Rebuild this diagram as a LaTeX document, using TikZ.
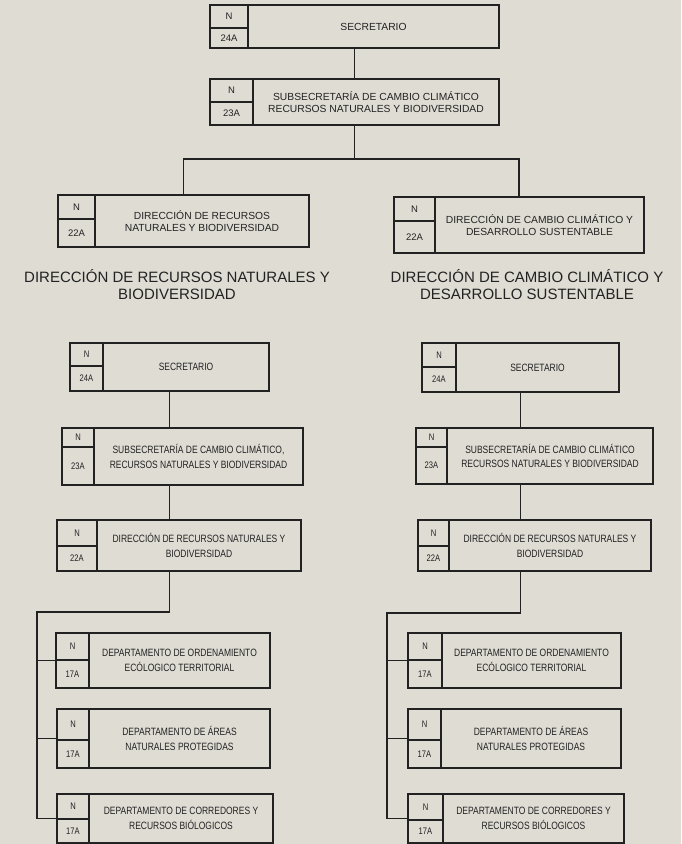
\documentclass[tikz,border=0pt]{standalone}
\usepackage{fontspec}
\setmainfont{Liberation Sans}
\newfontfamily\narrowfont[FakeStretch=0.8]{Liberation Sans}
\usetikzlibrary{fit,calc}
\definecolor{paper}{RGB}{223,220,212}
\definecolor{ink}{RGB}{34,34,34}
\tikzset{
  boxline/.style={draw=ink, line width=1.2pt},
  boxfit/.style={boxline, inner sep=0pt, outer sep=0pt},
  conn/.style={draw=ink, line width=1.1pt},
  title/.style={text=ink, align=center, inner sep=0pt, font=\fontsize{15}{17}\selectfont},
}
% \obox[name](x1,y1)(x2,y2)(xdiv,ydiv){code}{text}
\def\obox[#1](#2,#3)(#4,#5)(#6,#7)#8#9{%
  \node[boxfit, fit={(#2,#3) (#4,#5)}] (#1) {};
  \draw[boxline] (#6,#3) -- (#6,#5);
  \draw[boxline] (#2,#7) -- (#6,#7);
  \node[codetxt] (#1n) at ({(#2+#6)/2},{(#3+#7)/2}) {N};
  \node[codetxt] (#1c) at ({(#2+#6)/2},{(#7+#5)/2}) {#8};
  \node[maintxt] (#1t) at ({(#6+#4)/2},{(#3+#5)/2}) {#9};
}
\begin{document}
\begin{tikzpicture}[x=1pt,y=-1pt]
\fill[paper] (0,0) rectangle (681,844);
\useasboundingbox (0,0) rectangle (681,844);

% ---------- top chart ----------
\begin{scope}[
  maintxt/.style={text=ink, align=center, inner sep=0pt, font=\fontsize{10.3}{12.5}\selectfont},
  codetxt/.style={text=ink, inner sep=0pt, font=\fontsize{9.5}{10}\selectfont}]
\obox[sec](210,5)(499,48)(248,28){24A}{SECRETARIO}
\obox[sub](210,79)(499,125)(253,102){23A}{SUBSECRETARÍA DE CAMBIO CLIMÁTICO\\RECURSOS NATURALES Y BIODIVERSIDAD}
\obox[dL](58,195)(309,247)(95,219){22A}{DIRECCIÓN DE RECURSOS\\NATURALES Y BIODIVERSIDAD}
\obox[dR](394,197)(644,253)(435,221){22A}{DIRECCIÓN DE CAMBIO CLIMÁTICO Y\\DESARROLLO SUSTENTABLE}
\end{scope}
\draw[conn] (sec.south) -- (sub.north);
\draw[conn] (sub.south) -- ($(sub.south)+(0,34)$) coordinate (j1);
\draw[conn] (dL.north) |- (j1) -| (dR.north);

% ---------- titles ----------
\node[title] (tL) at (177,284.5) {DIRECCIÓN DE RECURSOS NATURALES Y\\BIODIVERSIDAD};
\node[title] (tR) at (527,284.5) {DIRECCIÓN DE CAMBIO CLIMÁTICO Y\\DESARROLLO SUSTENTABLE};

% ---------- lower charts ----------
\begin{scope}[
  maintxt/.style={text=ink, align=center, inner sep=0pt, font=\narrowfont\fontsize{10.6}{14.5}\selectfont},
  codetxt/.style={text=ink, inner sep=0pt, font=\narrowfont\fontsize{9.5}{10}\selectfont}]
% left
\obox[Lsec](70,343)(269,391)(103,366){24A}{SECRETARIO}
\obox[Lsub](62,428)(303,485)(94,447){23A}{SUBSECRETARÍA DE CAMBIO CLIMÁTICO,\\RECURSOS NATURALES Y BIODIVERSIDAD}
\obox[Ldir](57,520)(301,571)(97,546){22A}{DIRECCIÓN DE RECURSOS NATURALES Y\\BIODIVERSIDAD}
\obox[Ld1](56,633)(270,688)(89,660){17A}{DEPARTAMENTO DE ORDENAMIENTO\\ECÓLOGICO TERRITORIAL}
\obox[Ld2](57,709)(270,768)(89,740){17A}{DEPARTAMENTO DE ÁREAS\\NATURALES PROTEGIDAS}
\obox[Ld3](57,794)(273,843)(89,819){17A}{DEPARTAMENTO DE CORREDORES Y\\RECURSOS BIÓLOGICOS}
% right
\obox[Rsec](422,343)(619,392)(456,367){24A}{SECRETARIO}
\obox[Rsub](416,428)(653,484)(447,447){23A}{SUBSECRETARÍA DE CAMBIO CLIMÁTICO\\RECURSOS NATURALES Y BIODIVERSIDAD}
\obox[Rdir](418,520)(651,571)(449,546){22A}{DIRECCIÓN DE RECURSOS NATURALES Y\\BIODIVERSIDAD}
\obox[Rd1](408,633)(621,688)(442,660){17A}{DEPARTAMENTO DE ORDENAMIENTO\\ECÓLOGICO TERRITORIAL}
\obox[Rd2](408,709)(621,768)(441,740){17A}{DEPARTAMENTO DE ÁREAS\\NATURALES PROTEGIDAS}
\obox[Rd3](408,794)(624,843)(443,820){17A}{DEPARTAMENTO DE CORREDORES Y\\RECURSOS BIÓLOGICOS}
\end{scope}

% left connectors
\coordinate (bL) at (37,612);
\draw[conn] (Lsec.south) -- (Lsec.south |- Lsub.north);
\draw[conn] (Lsec.south |- Lsub.south) -- (Lsec.south |- Ldir.north);
\draw[conn] (Lsec.south |- Ldir.south) -- (Lsec.south |- bL) -- (bL) -- (bL |- Ld3.west) -- (Ld3.west);
\draw[conn] (bL |- Ld1.west) -- (Ld1.west);
\draw[conn] (bL |- Ld2.west) -- (Ld2.west);

% right connectors
\coordinate (bR) at (387,613);
\draw[conn] (Rsec.south) -- (Rsec.south |- Rsub.north);
\draw[conn] (Rsec.south |- Rsub.south) -- (Rsec.south |- Rdir.north);
\draw[conn] (Rsec.south |- Rdir.south) -- (Rsec.south |- bR) -- (bR) -- (bR |- Rd3.west) -- (Rd3.west);
\draw[conn] (bR |- Rd1.west) -- (Rd1.west);
\draw[conn] (bR |- Rd2.west) -- (Rd2.west);
\end{tikzpicture}
\end{document}
